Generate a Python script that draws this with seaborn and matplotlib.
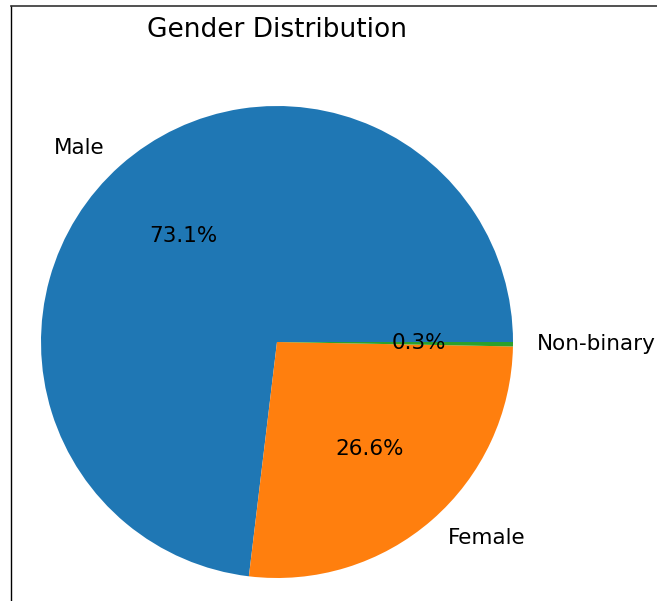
import matplotlib
matplotlib.use("Agg")
import matplotlib.pyplot as plt
from matplotlib.lines import Line2D
import seaborn as sns

labels = ["Male", "Female", "Non-binary"]
percentages = [73.1, 26.6, 0.3]
title = "Gender Distribution"

W, H = 657, 601
fig = plt.figure(figsize=(W / 100, H / 100), dpi=100)
cx, cy, r = 277, 342, 236
half = 1.25 * r
ax = fig.add_axes([(cx - half) / W, (H - cy - half) / H, 2 * half / W, 2 * half / H])
colors = sns.color_palette("tab10", 3)
ax.pie(percentages, labels=labels, colors=colors, autopct="%1.1f%%",
       startangle=0, textprops={"fontsize": 15.5})
ax.set_xlim(-1.25, 1.25)
ax.set_ylim(-1.25, 1.25)
ax.set_title(title, fontsize=19, pad=7)

# frame lines of the original screenshot
fig.add_artist(Line2D([10.5 / W, 10.5 / W], [0, 1 - 5.5 / H], transform=fig.transFigure,
                      color="black", lw=1))
fig.add_artist(Line2D([10.5 / W, 1], [1 - 5.5 / H, 1 - 5.5 / H], transform=fig.transFigure,
                      color="#333333", lw=1.2))

fig.savefig("out.png", dpi=100)
